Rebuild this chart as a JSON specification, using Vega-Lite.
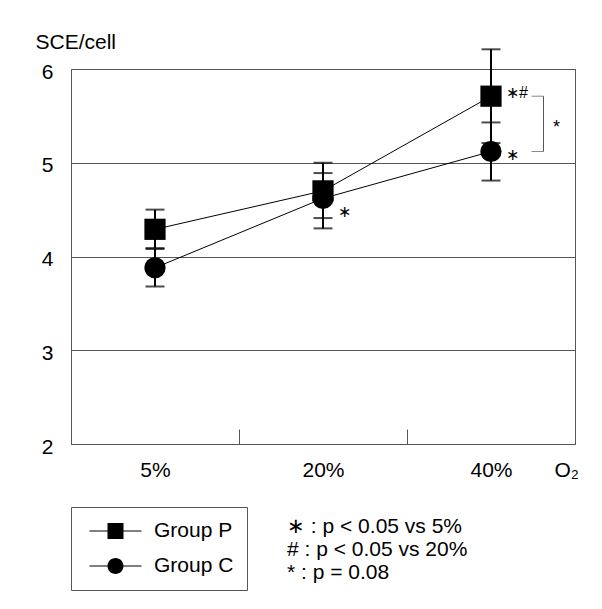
{
  "$schema": "https://vega.github.io/schema/vega-lite/v6.json",
  "width": 504,
  "height": 375,
  "autosize": {"type": "none"},
  "padding": {"left": 71, "top": 69, "right": 27, "bottom": 165},
  "background": "white",
  "config": {
    "font": "Liberation Sans",
    "view": {"stroke": "#555", "strokeWidth": 1},
    "axis": {"labelFont": "Liberation Sans", "titleFont": "Liberation Sans", "labelColor": "black", "titleColor": "black", "titleFontWeight": "normal"}
  },
  "datasets": {
    "means": [
      {"o2": "5%", "group": "Group P", "mean": 4.29, "lo": 4.09, "hi": 4.50},
      {"o2": "20%", "group": "Group P", "mean": 4.70, "lo": 4.41, "hi": 5.00},
      {"o2": "40%", "group": "Group P", "mean": 5.71, "lo": 5.21, "hi": 6.21},
      {"o2": "5%", "group": "Group C", "mean": 3.88, "lo": 3.68, "hi": 4.08},
      {"o2": "20%", "group": "Group C", "mean": 4.62, "lo": 4.30, "hi": 4.89},
      {"o2": "40%", "group": "Group C", "mean": 5.12, "lo": 4.81, "hi": 5.43}
    ],
    "notes": [
      {"o2": "40%", "group": "Group P", "y": 5.71, "label": "∗#"},
      {"o2": "40%", "group": "Group C", "y": 5.12, "label": "∗"},
      {"o2": "20%", "group": "Group C", "y": 4.62, "label": "∗"}
    ],
    "bracket": [
      {"o2": "40%", "top": 5.71, "bottom": 5.12, "label": "*"}
    ]
  },
  "title": {
    "text": ["∗ : p < 0.05 vs 5%", "# : p < 0.05 vs 20%", "* : p = 0.08"],
    "orient": "bottom",
    "anchor": "start",
    "frame": "group",
    "dx": 216,
    "offset": -75,
    "fontSize": 21,
    "fontWeight": "normal",
    "font": "Liberation Sans",
    "lineHeight": 23,
    "baseline": "top",
    "color": "black"
  },
  "resolve": {"scale": {"shape": "independent"}, "legend": {"shape": "independent"}},
  "encoding": {
    "x": {
      "field": "o2",
      "type": "nominal",
      "scale": {"domain": ["5%", "20%", "40%"], "paddingInner": 0, "paddingOuter": 0},
      "axis": {
        "tickBand": "extent",
        "tickSize": -15,
        "tickColor": "#555",
        "ticks": true,
        "domain": false,
        "labelAngle": 0,
        "labelFontSize": 21,
        "labelBaseline": "alphabetic",
        "labelPadding": 47,
        "title": "O₂",
        "titleFontSize": 21,
        "titleAlign": "left",
        "titleBaseline": "alphabetic",
        "titleX": 483,
        "titleY": 32
      }
    }
  },
  "layer": [
    {
      "data": {"name": "means"},
      "mark": {"type": "rule", "color": "black", "strokeWidth": 2},
      "encoding": {
        "y": {
          "field": "lo",
          "type": "quantitative",
          "scale": {"domain": [2, 6], "nice": false, "zero": false},
          "axis": {
            "values": [2, 3, 4, 5, 6],
            "format": "d",
            "grid": true,
            "gridColor": "#555",
            "ticks": false,
            "domain": false,
            "labelFontSize": 21,
            "labelPadding": 18,
            "labelOffset": 3,
            "title": "SCE/cell",
            "titleAngle": 0,
            "titleAlign": "left",
            "titleBaseline": "alphabetic",
            "titleX": -36,
            "titleY": -21,
            "titleFontSize": 21
          }
        },
        "y2": {"field": "hi"}
      }
    },
    {
      "data": {"name": "means"},
      "mark": {"type": "tick", "color": "black", "size": 19, "thickness": 2},
      "encoding": {"y": {"field": "hi", "type": "quantitative"}}
    },
    {
      "data": {"name": "means"},
      "mark": {"type": "tick", "color": "black", "size": 19, "thickness": 2},
      "encoding": {"y": {"field": "lo", "type": "quantitative"}}
    },
    {
      "data": {"name": "means"},
      "mark": {"type": "line", "color": "black", "strokeWidth": 1},
      "encoding": {
        "y": {"field": "mean", "type": "quantitative"},
        "detail": {"field": "group"}
      }
    },
    {
      "data": {"name": "means"},
      "mark": {"type": "point", "filled": true, "color": "black", "size": 450, "opacity": 1},
      "encoding": {
        "y": {"field": "mean", "type": "quantitative"},
        "shape": {
          "field": "group",
          "type": "nominal",
          "scale": {"domain": ["Group P", "Group C"], "range": ["square", "circle"]},
          "legend": null
        }
      }
    },
    {
      "data": {"name": "means"},
      "mark": {"type": "point", "filled": true, "color": "black", "size": 256, "opacity": 0},
      "encoding": {
        "y": {"field": "mean", "type": "quantitative"},
        "shape": {
          "field": "group",
          "type": "nominal",
          "scale": {
            "domain": ["Group P", "Group C"],
            "range": [
              "M-3.25,-0.0625H3.25V0.0625H-3.25ZM-1,-1H1V1H-1Z",
              "M-3.25,-0.0625H3.25V0.0625H-3.25ZM1,0A1,1,0,1,1,-1,0A1,1,0,1,1,1,0Z"
            ]
          },
          "legend": {
            "orient": "none",
            "legendX": 0,
            "legendY": 438,
            "title": null,
            "direction": "vertical",
            "strokeColor": "#555",
            "padding": 13.5,
            "symbolSize": 256,
            "symbolOffset": 20.5,
            "labelOffset": 28,
            "labelFontSize": 21,
            "labelFont": "Liberation Sans",
            "labelColor": "black",
            "rowPadding": 13,
            "symbolOpacity": 1,
            "symbolFillColor": "black",
            "symbolStrokeColor": "black",
            "symbolStrokeWidth": 0
          }
        }
      }
    },
    {
      "data": {"name": "notes"},
      "transform": [{"filter": "datum.group === 'Group P'"}],
      "mark": {"type": "text", "align": "left", "baseline": "alphabetic", "dx": 15, "dy": 1.5, "fontSize": 16, "color": "black"},
      "encoding": {
        "y": {"field": "y", "type": "quantitative"},
        "text": {"field": "label"}
      }
    },
    {
      "data": {"name": "notes"},
      "transform": [{"filter": "datum.group === 'Group C' && datum.o2 === '40%'"}],
      "mark": {"type": "text", "align": "left", "baseline": "alphabetic", "dx": 15, "dy": 8, "fontSize": 16, "color": "black"},
      "encoding": {
        "y": {"field": "y", "type": "quantitative"},
        "text": {"field": "label"}
      }
    },
    {
      "data": {"name": "notes"},
      "transform": [{"filter": "datum.group === 'Group C' && datum.o2 === '20%'"}],
      "mark": {"type": "text", "align": "left", "baseline": "alphabetic", "dx": 15, "dy": 18.5, "fontSize": 16, "color": "black"},
      "encoding": {
        "y": {"field": "y", "type": "quantitative"},
        "text": {"field": "label"}
      }
    },
    {
      "data": {"name": "bracket"},
      "mark": {"type": "rule", "color": "#555", "strokeWidth": 1, "xOffset": 52.5},
      "encoding": {
        "y": {"field": "top", "type": "quantitative"},
        "y2": {"field": "bottom"}
      }
    },
    {
      "data": {"name": "bracket"},
      "mark": {"type": "tick", "color": "#555", "size": 12, "thickness": 1, "xOffset": 46.5},
      "encoding": {"y": {"field": "top", "type": "quantitative"}}
    },
    {
      "data": {"name": "bracket"},
      "mark": {"type": "tick", "color": "#555", "size": 12, "thickness": 1, "xOffset": 46.5},
      "encoding": {"y": {"field": "bottom", "type": "quantitative"}}
    },
    {
      "data": {"name": "bracket"},
      "mark": {"type": "text", "align": "left", "baseline": "alphabetic", "dx": 62, "dy": 37, "fontSize": 18, "color": "black"},
      "encoding": {
        "y": {"field": "top", "type": "quantitative"},
        "text": {"field": "label"}
      }
    }
  ]
}
